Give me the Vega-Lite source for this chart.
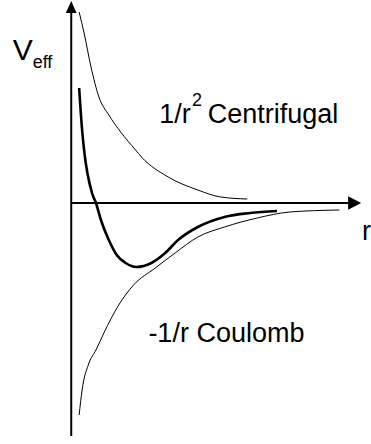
{
  "$schema": "https://vega.github.io/schema/vega-lite/v6.json",
  "width": 371,
  "height": 444,
  "padding": 0,
  "autosize": {"type": "fit", "contains": "padding"},
  "background": "white",
  "config": {"view": {"stroke": null}},
  "datasets": {
    "curves": [
      {"series": "centrifugal", "r": 0.8, "v": 19.1},
      {"series": "centrifugal", "r": 1.3, "v": 17.0},
      {"series": "centrifugal", "r": 2.0, "v": 13.6},
      {"series": "centrifugal", "r": 2.8, "v": 10.6},
      {"series": "centrifugal", "r": 3.8, "v": 8.8},
      {"series": "centrifugal", "r": 5.0, "v": 7.1},
      {"series": "centrifugal", "r": 6.5, "v": 5.3},
      {"series": "centrifugal", "r": 7.1, "v": 4.6},
      {"series": "centrifugal", "r": 9.8, "v": 2.6},
      {"series": "centrifugal", "r": 12.8, "v": 1.3},
      {"series": "centrifugal", "r": 15.1, "v": 0.6},
      {"series": "centrifugal", "r": 17.8, "v": 0.4},
      {"series": "coulomb", "r": 0.8, "v": -21.2},
      {"series": "coulomb", "r": 1.1, "v": -18.7},
      {"series": "coulomb", "r": 1.8, "v": -16.0},
      {"series": "coulomb", "r": 2.5, "v": -14.7},
      {"series": "coulomb", "r": 3.3, "v": -13.0},
      {"series": "coulomb", "r": 4.8, "v": -10.2},
      {"series": "coulomb", "r": 6.3, "v": -8.2},
      {"series": "coulomb", "r": 8.5, "v": -6.5},
      {"series": "coulomb", "r": 10.5, "v": -5.0},
      {"series": "coulomb", "r": 12.8, "v": -3.4},
      {"series": "coulomb", "r": 15.5, "v": -2.4},
      {"series": "coulomb", "r": 18.8, "v": -1.5},
      {"series": "coulomb", "r": 22.1, "v": -0.9},
      {"series": "coulomb", "r": 27.1, "v": -0.7}
    ],
    "effective": [
      {"r": 0.8, "v": 11.5},
      {"r": 1.1, "v": 7.3},
      {"r": 1.3, "v": 5.3},
      {"r": 2.1, "v": 1.0},
      {"r": 2.5, "v": 0.0},
      {"r": 3.0, "v": -1.7},
      {"r": 3.8, "v": -3.7},
      {"r": 4.6, "v": -5.2},
      {"r": 5.5, "v": -6.0},
      {"r": 6.6, "v": -6.4},
      {"r": 8.1, "v": -6.0},
      {"r": 9.5, "v": -5.0},
      {"r": 10.8, "v": -3.7},
      {"r": 12.8, "v": -2.4},
      {"r": 15.5, "v": -1.4},
      {"r": 18.1, "v": -1.0},
      {"r": 20.8, "v": -0.8}
    ],
    "axes": [
      {"axis": "V", "r": 0, "v": -23.3, "r2": 0, "v2": 19.0},
      {"axis": "r", "r": 0, "v": 0, "r2": 28.0, "v2": 0}
    ],
    "arrowUp": [{"r": 0, "v": 19.6}],
    "arrowRight": [{"r": 28.65, "v": 0}],
    "bigLabels": [
      {"label": "1/r", "r": 8.9, "v": 8.0},
      {"label": "Centrifugal", "r": 13.8, "v": 8.0},
      {"label": "-1/r Coulomb", "r": 7.8, "v": -13.9},
      {"label": "r", "r": 29.4, "v": -3.7}
    ],
    "vLabel": [{"label": "V", "r": -5.9, "v": 14.3}],
    "smallLabels": [
      {"label": "eff", "r": -3.9, "v": 13.5},
      {"label": "2", "r": 12.2, "v": 9.7}
    ]
  },
  "layer": [
    {
      "data": {"name": "axes"},
      "mark": {"type": "rule", "color": "black", "strokeWidth": 2},
      "encoding": {
        "x": {"field": "r", "type": "quantitative", "scale": {"domain": [-7.2, 29.9], "nice": false, "zero": false}, "axis": null},
        "y": {"field": "v", "type": "quantitative", "scale": {"domain": [-24.1, 20.3], "nice": false, "zero": false}, "axis": null},
        "x2": {"field": "r2"},
        "y2": {"field": "v2"}
      }
    },
    {
      "data": {"name": "arrowUp"},
      "mark": {"type": "point", "shape": "M0,-1L-0.9,1L0.9,1Z", "filled": true, "color": "black", "opacity": 1, "size": 144, "strokeWidth": 0},
      "encoding": {
        "x": {"field": "r", "type": "quantitative"},
        "y": {"field": "v", "type": "quantitative"}
      }
    },
    {
      "data": {"name": "arrowRight"},
      "mark": {"type": "point", "shape": "M1,0L-1,-1.05L-1,1.05Z", "filled": true, "color": "black", "opacity": 1, "size": 169, "strokeWidth": 0},
      "encoding": {
        "x": {"field": "r", "type": "quantitative"},
        "y": {"field": "v", "type": "quantitative"}
      }
    },
    {
      "data": {"name": "curves"},
      "mark": {"type": "line", "color": "black", "strokeWidth": 1, "interpolate": "monotone"},
      "encoding": {
        "x": {"field": "r", "type": "quantitative"},
        "y": {"field": "v", "type": "quantitative"},
        "detail": {"field": "series"}
      }
    },
    {
      "data": {"name": "effective"},
      "mark": {"type": "line", "color": "black", "strokeWidth": 2.6, "interpolate": "monotone"},
      "encoding": {
        "x": {"field": "r", "type": "quantitative"},
        "y": {"field": "v", "type": "quantitative"}
      }
    },
    {
      "data": {"name": "bigLabels"},
      "mark": {"type": "text", "font": "Liberation Sans", "fontSize": 27, "align": "left", "baseline": "alphabetic", "color": "black"},
      "encoding": {
        "x": {"field": "r", "type": "quantitative"},
        "y": {"field": "v", "type": "quantitative"},
        "text": {"field": "label"}
      }
    },
    {
      "data": {"name": "vLabel"},
      "mark": {"type": "text", "font": "Liberation Sans", "fontSize": 30, "align": "left", "baseline": "alphabetic", "color": "black"},
      "encoding": {
        "x": {"field": "r", "type": "quantitative"},
        "y": {"field": "v", "type": "quantitative"},
        "text": {"field": "label"}
      }
    },
    {
      "data": {"name": "smallLabels"},
      "mark": {"type": "text", "font": "Liberation Sans", "fontSize": 18, "align": "left", "baseline": "alphabetic", "color": "black"},
      "encoding": {
        "x": {"field": "r", "type": "quantitative"},
        "y": {"field": "v", "type": "quantitative"},
        "text": {"field": "label"}
      }
    }
  ]
}
